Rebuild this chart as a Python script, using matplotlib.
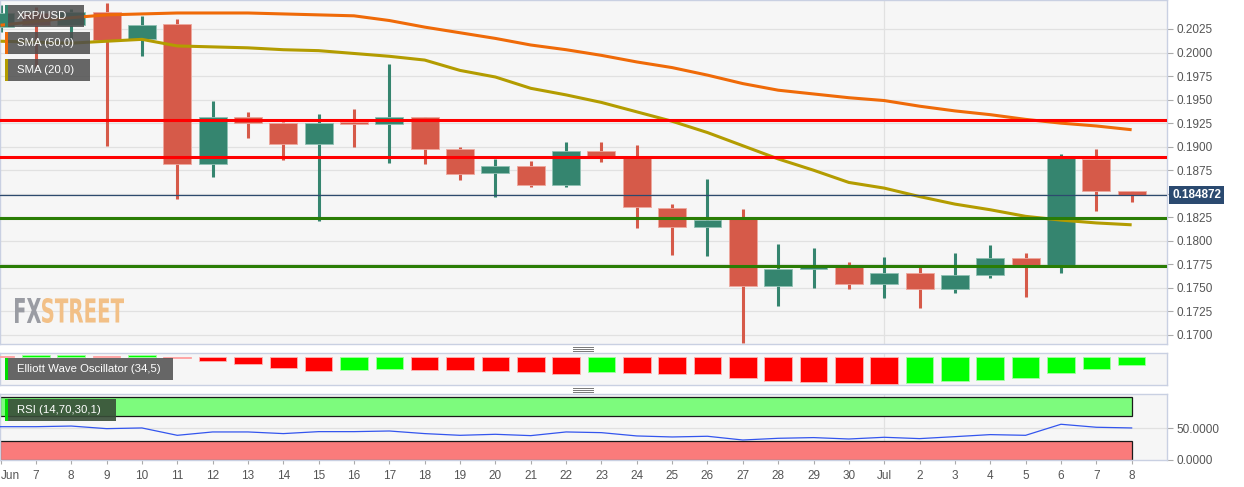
import matplotlib
matplotlib.use("Agg")
import matplotlib.pyplot as plt
import numpy as np
from matplotlib.patches import Rectangle, PathPatch
from matplotlib.textpath import TextPath
from matplotlib.font_manager import FontProperties
from matplotlib.transforms import Affine2D, blended_transform_factory
from matplotlib.lines import Line2D

plt.rcParams['font.family'] = ['Liberation Sans', 'DejaVu Sans']

# ---------------- data ----------------
day_labels = ['Jun', '7', '8', '9', '10', '11', '12', '13', '14', '15', '16', '17', '18',
              '19', '20', '21', '22', '23', '24', '25', '26', '27', '28', '29', '30',
              'Jul', '2', '3', '4', '5', '6', '7', '8']

opens = [0.2027, 0.2042, 0.2029, 0.2043, 0.2014, 0.2030, 0.1882, 0.1931, 0.1925, 0.1903,
         0.1926, 0.1924, 0.1931, 0.1898, 0.1872, 0.1880, 0.1859, 0.1895, 0.1888, 0.1835,
         0.1815, 0.1825, 0.1752, 0.1770, 0.1773, 0.1754, 0.1766, 0.1749, 0.1764, 0.1782,
         0.1774, 0.1887, 0.1853]
highs = [0.2050, 0.2048, 0.2046, 0.2053, 0.2039, 0.2036, 0.1949, 0.1937, 0.1926, 0.1935,
         0.1940, 0.1988, 0.1932, 0.1900, 0.1887, 0.1885, 0.1905, 0.1905, 0.1902, 0.1839,
         0.1866, 0.1834, 0.1797, 0.1792, 0.1777, 0.1783, 0.1773, 0.1787, 0.1796, 0.1787,
         0.1892, 0.1898, 0.1853]
lows = [0.2022, 0.1985, 0.2013, 0.1901, 0.1996, 0.1844, 0.1868, 0.1909, 0.1886, 0.1821,
        0.1900, 0.1883, 0.1882, 0.1865, 0.1847, 0.1857, 0.1857, 0.1884, 0.1814, 0.1785,
        0.1784, 0.1691, 0.1731, 0.1750, 0.1749, 0.1739, 0.1729, 0.1745, 0.1761, 0.1740,
        0.1766, 0.1832, 0.1841]
closes = [0.2042, 0.2029, 0.2043, 0.2013, 0.2029, 0.1882, 0.1931, 0.1925, 0.1903, 0.1925,
          0.1924, 0.1932, 0.1898, 0.1871, 0.1880, 0.1859, 0.1895, 0.1889, 0.1836, 0.1815,
          0.1822, 0.1752, 0.1770, 0.1773, 0.1754, 0.1766, 0.1749, 0.1764, 0.1782, 0.1774,
          0.1888, 0.1853, 0.184872]

sma50 = [0.2029, 0.2033, 0.2037, 0.2040, 0.2041, 0.2042, 0.2042, 0.2042, 0.2041, 0.2040,
         0.2039, 0.2034, 0.2027, 0.2021, 0.2015, 0.2008, 0.2003, 0.1997, 0.1990, 0.1984,
         0.1976, 0.1967, 0.1960, 0.1956, 0.1952, 0.1949, 0.1943, 0.1938, 0.1934, 0.1929,
         0.1925, 0.1922, 0.1918]
sma20 = [0.2012, 0.2011, 0.2010, 0.2012, 0.2014, 0.2007, 0.2006, 0.2005, 0.2003, 0.2002,
         0.1999, 0.1996, 0.1992, 0.1981, 0.1974, 0.1962, 0.1955, 0.1947, 0.1937, 0.1927,
         0.1915, 0.1901, 0.1887, 0.1875, 0.1862, 0.1856, 0.1847, 0.1839, 0.1833, 0.1826,
         0.1822, 0.1819, 0.1817]

ewo = [0.00008, 0.00015, 0.00017, 0.00012, 0.00017, -0.00015, -0.0004, -0.0007, -0.0011,
       -0.0014, -0.0013, -0.0012, -0.0013, -0.00133, -0.0014, -0.0015, -0.0017, -0.0015,
       -0.0016, -0.0017, -0.00173, -0.0021, -0.0024, -0.00257, -0.00267, -0.00273,
       -0.0026, -0.00247, -0.00233, -0.0021, -0.00163, -0.0012, -0.00083]

rsi = [52.5, 52.5, 53.5, 49.4, 50.5, 38.9, 44.2, 44.2, 41.6, 44.7, 44.7, 45.7, 41.6, 38.9,
       40.5, 38.4, 44.2, 43.1, 37.9, 36.3, 37.4, 31.5, 34.2, 35.3, 33.1, 35.8, 33.7, 36.8,
       40.0, 38.9, 56.3, 51.6, 50.5]

resistances = [0.1928, 0.1889]
supports = [0.1824, 0.1773]
last_price = 0.184872
price_ticks = [0.1700, 0.1725, 0.1750, 0.1775, 0.1800, 0.1825, 0.1850, 0.1875, 0.1900,
               0.1925, 0.1950, 0.1975, 0.2000, 0.2025]

# ---------------- styling ----------------
W, H = 1244, 487
C_UP = '#35856f'
C_DN = '#d65a49'
C_BG = '#f6f6f6'
C_BORDER = '#c9d0e2'
C_GRID = '#e1e1e1'
C_TXT = '#555555'

fig = plt.figure(figsize=(W / 100, H / 100), dpi=100)
fig.patch.set_facecolor('white')


def rect(x0, y0, x1, y1):
    return [x0 / W, 1 - y1 / H, (x1 - x0) / W, (y1 - y0) / H]


def style_ax(ax):
    ax.set_facecolor(C_BG)
    for s in ax.spines.values():
        s.set_color(C_BORDER)
        s.set_linewidth(1.0)


x = np.arange(len(day_labels))
XLIM = (-0.015, 33.0)

# ---------------- main panel ----------------
ax = fig.add_axes(rect(0, 0, 1167, 344))
style_ax(ax)
ax.set_xlim(*XLIM)
ax.set_ylim(0.16904, 0.20558)
for t in price_ticks:
    ax.axhline(t, color=C_GRID, lw=0.9, zorder=0)
ax.axvline(25, color=C_GRID, lw=0.9, zorder=0)

o = np.array(opens); c = np.array(closes); hi = np.array(highs); lo = np.array(lows)
up = c >= o
cols = np.where(up, C_UP, C_DN)
edge = np.where(up, '#8fc0b2', '#eea79d')
ax.vlines(x, lo, hi, colors=cols, lw=2.2, zorder=2)
body_bot = np.minimum(o, c)
body_h = np.maximum(np.abs(c - o), 0.00004)
ax.bar(x, body_h, bottom=body_bot, width=0.79, color=cols, edgecolor=edge,
       linewidth=0.6, zorder=3)

ax.plot(x, sma50, color='#ef6a08', lw=2.2, zorder=4, solid_capstyle='butt')
ax.plot(x, sma20, color='#b39c00', lw=2.2, zorder=4, solid_capstyle='butt')

for r in resistances:
    ax.axhline(r, color='#ff0000', lw=2.2, zorder=5)
for s in supports:
    ax.axhline(s, color='#2a7d05', lw=2.2, zorder=5)
ax.axhline(last_price, color='#2d4a6e', lw=0.9, zorder=5)

ax.yaxis.tick_right()
ax.set_yticks(price_ticks)
ax.set_yticklabels(['' if abs(t - 0.1850) < 1e-9 else f'{t:.4f}' for t in price_ticks])
ax.tick_params(axis='y', direction='out', length=4, width=0.8, color='#aaaaaa',
               labelcolor=C_TXT, labelsize=8.5, pad=3)
ax.set_xticks([])

trans = blended_transform_factory(ax.transAxes, ax.transData)
ax.text(1.0045, last_price, '0.184872', transform=trans, ha='left', va='center',
        color='white', fontsize=8.5, fontweight='bold', zorder=10, clip_on=False,
        bbox=dict(boxstyle='square,pad=0.25', fc='#2b4a70', ec='none'))

# ---------------- EWO panel ----------------
ax2 = fig.add_axes(rect(0, 353, 1167, 385))
style_ax(ax2)
ax2.set_xlim(*XLIM)
ax2.set_ylim(-0.00283, 0.00037)
ev = np.array(ewo)
ecols = ['#ff0000'] + ['#00ff00' if ev[i] > ev[i - 1] else '#ff0000' for i in range(1, len(ev))]
eedge = ['#ffb0b0' if cc == '#ff0000' else '#a0ffa0' for cc in ecols]
ax2.bar(x, ev, width=0.78, color=ecols, edgecolor=eedge, linewidth=0.6, zorder=3)
ax2.axvline(25, color=C_GRID, lw=0.9, zorder=0)
ax2.set_xticks([]); ax2.set_yticks([])

# ---------------- RSI panel ----------------
ax3 = fig.add_axes(rect(0, 394, 1167, 460))
style_ax(ax3)
ax3.set_xlim(*XLIM)
ax3.set_ylim(0, 104)
ax3.axhline(50, color=C_GRID, lw=0.9, zorder=0)
ax3.axvline(25, color=C_GRID, lw=0.9, zorder=0)
ax3.add_patch(Rectangle((-0.02, 70), 32.02, 30, fc='#7dfb7d', ec='#1a1a1a', lw=0.9, zorder=1))
ax3.add_patch(Rectangle((-0.02, 0), 32.02, 30, fc='#fa7b7b', ec='#1a1a1a', lw=0.9, zorder=1))
ax3.plot(x, rsi, color='#3355ee', lw=0.9, zorder=3)
ax3.yaxis.tick_right()
ax3.set_yticks([0, 50])
ax3.set_yticklabels(['0.0000', '50.0000'])
ax3.tick_params(axis='y', direction='out', length=4, width=0.8, color='#aaaaaa',
                labelcolor=C_TXT, labelsize=8.5, pad=3)
ax3.set_xticks(x)
ax3.set_xticklabels(day_labels)
ax3.tick_params(axis='x', direction='out', length=3, width=0.8, color='#aaaaaa',
                labelcolor=C_TXT, labelsize=8.5, pad=4)
ax3.get_xticklabels()[0].set_ha('left')

# ---------------- overlay boxes (figure pixel coords) ----------------
def add_label(x0, y0, x1, y1, text, stripe, fc=(0.30, 0.30, 0.30, 0.85)):
    b = rect(x0, y0, x1, y1)
    fig.add_artist(Rectangle((b[0], b[1]), b[2], b[3], transform=fig.transFigure,
                             fc=fc, ec='none', zorder=20))
    s = rect(x0 - 3, y0, x0, y1)
    fig.add_artist(Rectangle((s[0], s[1]), s[2], s[3], transform=fig.transFigure,
                             fc=stripe, ec='none', zorder=21))
    fig.text((x0 + 9) / W, 1 - ((y0 + y1) / 2) / H, text, color='white', fontsize=8.2,
             ha='left', va='center', zorder=22)


add_label(8, 5, 84, 27, 'XRP/USD', C_UP)
add_label(8, 32, 90, 54, 'SMA (50,0)', '#ef6a08')
add_label(8, 59, 90, 81, 'SMA (20,0)', '#b39c00')
add_label(8, 358, 173, 380, 'Elliott Wave Oscillator (34,5)', '#00dd00')
add_label(8, 399, 116, 421, 'RSI (14,70,30,1)', '#00dd00', fc=(0.22, 0.30, 0.22, 0.9))

# resize handles
for yc in (349, 390):
    for dy in (-2, 0, 2):
        yy = 1 - (yc + dy) / H
        fig.add_artist(Line2D([573 / W, 593 / W], [yy, yy], transform=fig.transFigure,
                              color='#777777', lw=0.7, zorder=20))

# FXSTREET watermark
fp = FontProperties(family='DejaVu Sans', weight='bold')


def fit_text(s, x0, y0, x1, y1, color):
    tp = TextPath((0, 0), s, size=20, prop=fp)
    ext = tp.get_extents()
    sx = (x1 - x0) / ext.width
    sy = (y1 - y0) / ext.height
    tr = Affine2D().translate(-ext.x0, -ext.y0).scale(sx, sy).translate(x0, H - y1)
    fig.add_artist(PathPatch(tp, transform=tr, fc=color, ec='none', zorder=15))


fit_text('FX', 15, 298, 41, 323, '#9a9ca3')
fit_text('STREET', 42, 298, 124, 323, '#f2c087')

fig.savefig('out.png', dpi=100, facecolor='white')
